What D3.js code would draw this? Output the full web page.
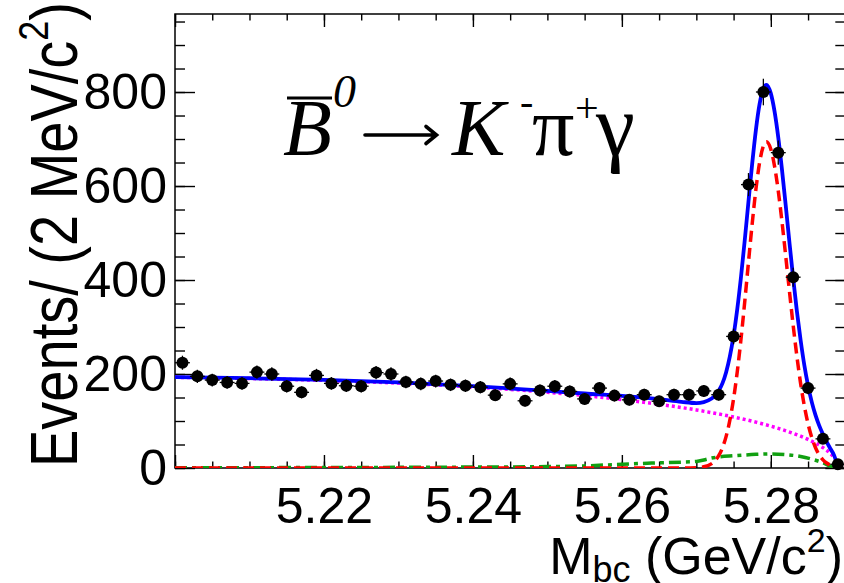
<!DOCTYPE html>
<html>
<head>
<meta charset="utf-8">
<title>Mbc distribution</title>
<script src="https://cdn.jsdelivr.net/npm/d3@7/dist/d3.min.js"></script>
<style>
  html, body { margin: 0; padding: 0; background: #fff; }
  svg { display: block; }
</style>
</head>
<body>
<svg id="chart" width="844" height="583"></svg>
<script>
// ---------- measured histogram (2 MeV bins) ----------
const massBins = [5.201,5.203,5.205,5.207,5.209,5.211,5.213,5.215,5.217,5.219,
                  5.221,5.223,5.225,5.227,5.229,5.231,5.233,5.235,5.237,5.239,
                  5.241,5.243,5.245,5.247,5.249,5.251,5.253,5.255,5.257,5.259,
                  5.261,5.263,5.265,5.267,5.269,5.271,5.273,5.275,5.277,5.279,
                  5.281,5.283,5.285,5.287,5.289];
const eventCounts = [224,195,187,182,180,204,200,174,161,197,
                     180,175,174,203,200,183,179,185,177,175,
                     172,155,179,143,165,174,163,147,170,154,
                     145,156,142,156,156,164,156,280,603,800,
                     671,406,170,62,8];

// ---------- axis labels ----------
const xTickLabels = [5.22, 5.24, 5.26, 5.28];
const yTickLabels = [0, 200, 400, 600, 800];

// ---------- fit components ----------
// total fit (solid blue)
const totalMass  = [5.200,5.210,5.220,5.230,5.240,5.250,5.255,5.260,5.265,5.268,
                    5.270,5.271,5.272,5.2725,5.273,5.2735,5.274,5.2745,5.275,5.2755,
                    5.276,5.2765,5.277,5.2775,5.278,5.2785,5.279,5.2794,5.280,5.2805,
                    5.281,5.2815,5.282,5.2825,5.283,5.2835,5.284,5.2845,5.285,5.2855,
                    5.286,5.2865,5.287,5.2875,5.288,5.2885,5.289];
const totalYield = [193.5,191.1,187.4,182.1,174.4,164.2,158.5,153.6,146.4,140.9,
                    138.1,140.1,147.3,153.8,164.3,180.1,203.9,237.3,282.0,338.9,
                    407.2,484.8,567.1,647.9,719.9,775.3,808.1,815.3,797.1,758.8,
                    703.3,634.6,558.7,480.0,404.0,333.7,272.1,218.7,175.2,140.2,
                    112.5,90.2,71.8,55.6,41.0,26.9,1.9];
// signal (dashed red)
const sigMass  = [5.200,5.268,5.270,5.271,5.272,5.2725,5.273,5.2735,5.274,5.2745,
                  5.275,5.2755,5.276,5.2765,5.277,5.2775,5.278,5.2785,5.279,5.2794,
                  5.280,5.2805,5.281,5.2815,5.282,5.2825,5.283,5.2835,5.284,5.2845,
                  5.285,5.2855,5.286,5.2865,5.287,5.2875,5.288,5.2885,5.289];
const sigYield = [0,0,0.6,2.5,8.7,15.4,26.2,42.8,67.3,101.7,
                  147.5,205.6,275.2,354.1,437.8,519.9,593.3,650.5,685.2,694.0,
                  678.2,642.4,589.5,523.8,451.0,376.0,303.7,237.6,180.0,132.1,
                  93.9,64.7,43.1,27.9,17.4,10.6,6.2,3.5,1.9];
// combinatorial background (dotted magenta)
const bkgMass  = [5.200,5.210,5.220,5.230,5.240,5.250,5.255,5.260,5.265,5.270,
                  5.275,5.278,5.280,5.281,5.283,5.284,5.285,5.286,5.287,5.288,
                  5.2885,5.2888,5.289];
const bkgYield = [193.0,190.4,186.4,180.6,172.4,161.2,154.0,145.6,135.6,123.5,
                  108.5,97.6,89.1,84.4,73.8,67.7,60.8,52.9,43.4,30.8,
                  21.9,13.8,0];
// peaking B background (dash-dotted green)
const peakMass  = [5.200,5.220,5.240,5.250,5.255,5.260,5.264,5.268,5.270,5.271,
                   5.272,5.273,5.275,5.278,5.280,5.282,5.284,5.286,5.287,5.288,
                   5.2885,5.289];
const peakYield = [0.5,1.0,2.0,3.0,4.5,8.0,10.5,12.5,14.0,17.0,
                   21.0,23.5,26.0,29.0,30.0,28.5,24.5,16.5,11.0,4.0,
                   1.5,0];

// ---------- layout ----------
const plotLeft = 175, plotRight = 845.3, plotTop = 14, plotBottom = 468;
const x = d3.scaleLinear().domain([5.20, 5.29]).range([plotLeft, plotRight]);
const y = d3.scaleLinear().domain([0, 966]).range([plotBottom, plotTop]);

const sans = "'Liberation Sans', Arial, Helvetica, sans-serif";
const serif = "'Liberation Serif', 'Times New Roman', Times, serif";

const svg = d3.select("#chart");
svg.append("rect").attr("width", 844).attr("height", 583).attr("fill", "#fff");

svg.append("defs").append("clipPath").attr("id", "plotClip")
  .append("rect")
  .attr("x", plotLeft).attr("y", plotTop)
  .attr("width", plotRight - plotLeft).attr("height", plotBottom - plotTop);

// ---------- axes ----------
const xMinor = x.ticks(18);
const yMinor = y.ticks(20);
const xMajor = [5.20].concat(xTickLabels);

function styleAxis(g) {
  g.select(".domain").remove();
  g.selectAll(".tick line").attr("stroke", "#000").attr("stroke-width", 1.4);
}

// bottom: minor, major + labels
svg.append("g").attr("transform", `translate(0,${plotBottom})`)
  .call(d3.axisBottom(x).tickValues(xMinor).tickSizeInner(-6.5).tickSizeOuter(0).tickFormat(""))
  .call(styleAxis);
const xAxisMajor = svg.append("g").attr("transform", `translate(0,${plotBottom})`)
  .call(d3.axisBottom(x).tickValues(xMajor).tickSizeInner(-13).tickSizeOuter(0).tickPadding(19)
        .tickFormat(d => xTickLabels.includes(d) ? d3.format(".2f")(d) : ""))
  .call(styleAxis);
xAxisMajor.attr("font-family", sans).attr("font-size", 50);
xAxisMajor.selectAll("text").attr("fill", "#000");

// top mirror
svg.append("g").attr("transform", `translate(0,${plotTop})`)
  .call(d3.axisTop(x).tickValues(xMinor).tickSizeInner(-6.5).tickSizeOuter(0).tickFormat(""))
  .call(styleAxis);
svg.append("g").attr("transform", `translate(0,${plotTop})`)
  .call(d3.axisTop(x).tickValues(xMajor).tickSizeInner(-13).tickSizeOuter(0).tickFormat(""))
  .call(styleAxis);

// left: minor, major + labels
svg.append("g").attr("transform", `translate(${plotLeft},0)`)
  .call(d3.axisLeft(y).tickValues(yMinor).tickSizeInner(-10).tickSizeOuter(0).tickFormat(""))
  .call(styleAxis);
const yAxisMajor = svg.append("g").attr("transform", `translate(${plotLeft},0)`)
  .call(d3.axisLeft(y).tickValues(yTickLabels).tickSizeInner(-20).tickSizeOuter(0).tickPadding(8)
        .tickFormat(d3.format("d")))
  .call(styleAxis);
yAxisMajor.attr("font-family", sans).attr("font-size", 50);
yAxisMajor.selectAll("text").attr("fill", "#000");

// right mirror
svg.append("g").attr("transform", `translate(${plotRight},0)`)
  .call(d3.axisRight(y).tickValues(yMinor).tickSizeInner(-10).tickSizeOuter(0).tickFormat(""))
  .call(styleAxis);
svg.append("g").attr("transform", `translate(${plotRight},0)`)
  .call(d3.axisRight(y).tickValues(yTickLabels).tickSizeInner(-20).tickSizeOuter(0).tickFormat(""))
  .call(styleAxis);

// frame
svg.append("rect")
  .attr("x", plotLeft).attr("y", plotTop)
  .attr("width", plotRight - plotLeft).attr("height", plotBottom - plotTop)
  .attr("fill", "none").attr("stroke", "#000").attr("stroke-width", 1.5);

// ---------- fit curves ----------
const plot = svg.append("g").attr("clip-path", "url(#plotClip)");
const line = d3.line().x(d => x(d[0])).y(d => y(d[1])).curve(d3.curveMonotoneX);

const curves = [
  { pts: d3.zip(peakMass, peakYield),   color: "#11a011", dash: "12,5,4,5", width: 3.5 },
  { pts: d3.zip(bkgMass, bkgYield),     color: "#ff00ff", dash: "3,3",      width: 3.5 },
  { pts: d3.zip(sigMass, sigYield),     color: "#ff0000", dash: "11,6",     width: 3.5 },
  { pts: d3.zip(totalMass, totalYield), color: "#0000ff", dash: null,       width: 3.8 }
];
curves.forEach(c => {
  plot.append("path")
    .attr("d", line(c.pts))
    .attr("fill", "none")
    .attr("stroke", c.color)
    .attr("stroke-width", c.width)
    .attr("stroke-dasharray", c.dash)
    .attr("stroke-linejoin", "round");
});

// ---------- data points with errors ----------
const data = d3.zip(massBins, eventCounts);
const pts = svg.append("g");
pts.selectAll("line.ey").data(data).join("line").attr("class", "ey")
  .attr("x1", d => x(d[0])).attr("x2", d => x(d[0]))
  .attr("y1", d => y(d[1] + Math.sqrt(d[1]))).attr("y2", d => y(Math.max(0, d[1] - Math.sqrt(d[1]))))
  .attr("stroke", "#000").attr("stroke-width", 1.3);
pts.selectAll("line.ex").data(data).join("line").attr("class", "ex")
  .attr("x1", d => x(d[0] - 0.001)).attr("x2", d => x(d[0] + 0.001))
  .attr("y1", d => y(d[1])).attr("y2", d => y(d[1]))
  .attr("stroke", "#000").attr("stroke-width", 1.3);
pts.selectAll("circle").data(data).join("circle")
  .attr("cx", d => x(d[0])).attr("cy", d => y(d[1])).attr("r", 6)
  .attr("fill", "#000");

// ---------- axis titles ----------
const yTitle = svg.append("text")
  .attr("transform", "translate(77,2) rotate(-90) scale(1,1.2)")
  .attr("text-anchor", "end")
  .attr("font-family", sans).attr("font-size", 56).attr("fill", "#000");
yTitle.append("tspan").text("Events/ (2 MeV/c");
yTitle.append("tspan").attr("font-size", 36).attr("dy", -24).text("2");
yTitle.append("tspan").attr("dy", 24).text(")");

const xTitle = svg.append("text")
  .attr("x", 843).attr("y", 574)
  .attr("text-anchor", "end")
  .attr("font-family", sans).attr("font-size", 52).attr("fill", "#000");
xTitle.append("tspan").text("M");
xTitle.append("tspan").attr("font-size", 36).attr("dy", 8).text("bc");
xTitle.append("tspan").attr("dy", -8).text(" (GeV/c");
xTitle.append("tspan").attr("font-size", 34).attr("dy", -22).text("2");
xTitle.append("tspan").attr("dy", 22).text(")");

// ---------- decay label ----------
const decay = svg.append("g").attr("font-family", serif).attr("fill", "#000");
decay.append("text").attr("x", 283).attr("y", 155).attr("font-size", 80)
  .attr("font-style", "italic").text("B");
decay.append("line").attr("x1", 287).attr("x2", 332).attr("y1", 98).attr("y2", 98)
  .attr("stroke", "#000").attr("stroke-width", 3);
decay.append("text").attr("x", 333).attr("y", 107).attr("font-size", 46)
  .attr("font-style", "italic").text("0");
// reaction arrow
decay.append("path")
  .attr("d", "M365,135 H436 M426,126.5 L436.5,135 L426,143.5")
  .attr("fill", "none").attr("stroke", "#000").attr("stroke-width", 3.6)
  .attr("stroke-linecap", "round").attr("stroke-linejoin", "miter");
decay.append("text").attr("x", 452).attr("y", 155).attr("font-size", 80)
  .attr("font-style", "italic").text("K");
decay.append("text").attr("x", 520).attr("y", 115).attr("font-size", 40).text("-");
decay.append("text").attr("x", 532).attr("y", 155).attr("font-size", 84).text("\u03c0");
decay.append("text").attr("x", 575).attr("y", 122).attr("font-size", 42).text("+");
decay.append("text").attr("x", 596).attr("y", 155).attr("font-size", 88).text("\u03b3");
</script>
</body>
</html>
